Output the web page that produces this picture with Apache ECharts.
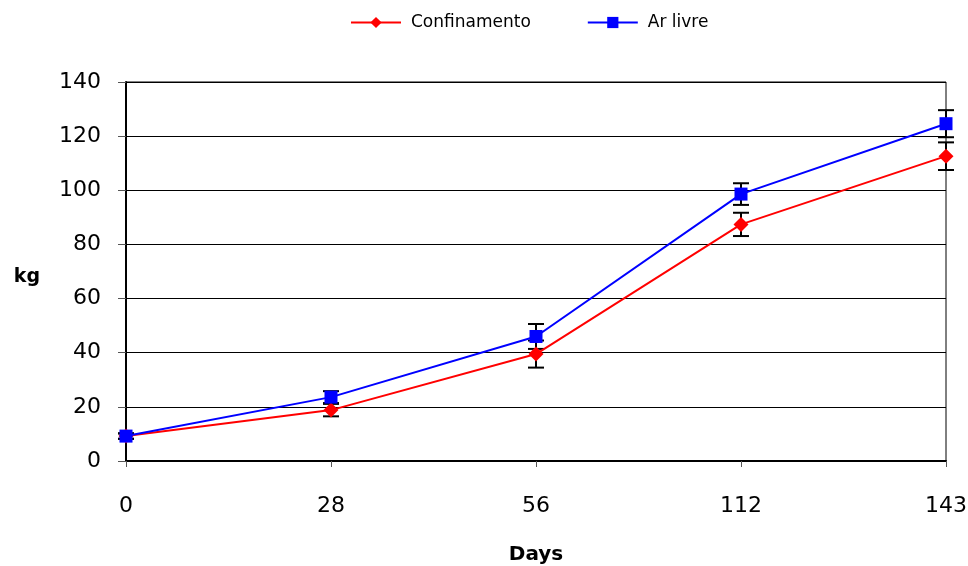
<!DOCTYPE html>
<html>
<head>
<meta charset="utf-8">
<script src="https://cdn.jsdelivr.net/npm/echarts@6/dist/echarts.min.js"></script>
<style>
  html, body { margin: 0; padding: 0; background: #fff; }
  #chart { width: 968px; height: 566px; }
</style>
</head>
<body>
<div id="chart"></div>
<script>
var days = ['0', '28', '56', '112', '143'];
var confinamento = [9.2, 18.8, 39.5, 87.4, 112.6];
var confinamentoErr = [1, 2.3, 5, 4.3, 5.1];
var arLivre = [9.2, 23.6, 46.0, 98.6, 124.6];
var arLivreErr = [1, 2.2, 4.6, 4, 5];

var font = 'DejaVu Sans, Liberation Sans, Arial, sans-serif';

function errorData(vals, errs) {
    return vals.map(function (v, i) {
        return [i, v - errs[i], v + errs[i]];
    });
}

// barra de erro: linha vertical com tampas
function renderError(params, api) {
    var x = api.value(0);
    var lo = api.coord([x, api.value(1)]);
    var hi = api.coord([x, api.value(2)]);
    var w = 8;
    var style = { stroke: '#000', lineWidth: 2 };
    return {
        type: 'group',
        children: [
            { type: 'line', shape: { x1: lo[0], y1: lo[1], x2: hi[0], y2: hi[1] }, style: style },
            { type: 'line', shape: { x1: lo[0] - w, y1: lo[1], x2: lo[0] + w, y2: lo[1] }, style: style },
            { type: 'line', shape: { x1: hi[0] - w, y1: hi[1], x2: hi[0] + w, y2: hi[1] }, style: style }
        ]
    };
}

var option = {
    animation: false,
    backgroundColor: '#fff',
    legend: {
        top: 9,
        left: 345,
        itemWidth: 50,
        itemHeight: 14,
        itemGap: 56,
        textStyle: {
            fontFamily: font,
            fontSize: 17,
            color: '#000',
            padding: [0, 0, 0, 5]
        },
        data: ['Confinamento', 'Ar livre']
    },
    grid: {
        left: 126,
        right: 22,
        top: 82,
        bottom: 105,
        outerBoundsMode: 'none',
        show: true,
        borderColor: '#000',
        borderWidth: 1
    },
    xAxis: {
        type: 'category',
        data: days,
        boundaryGap: false,
        name: 'Days',
        nameLocation: 'middle',
        nameGap: 84,
        nameTextStyle: {
            fontFamily: font,
            fontSize: 20,
            fontWeight: 'bold',
            color: '#000'
        },
        axisLine: { lineStyle: { color: '#000', width: 2 } },
        axisTick: { show: true, length: 6, lineStyle: { color: '#555' } },
        axisLabel: {
            margin: 34,
            fontFamily: font,
            fontSize: 22,
            color: '#000'
        },
        splitLine: { show: false }
    },
    yAxis: {
        type: 'value',
        min: 0,
        max: 140,
        interval: 20,
        name: 'kg',
        nameLocation: 'middle',
        nameRotate: 0,
        nameGap: 86,
        nameTextStyle: {
            fontFamily: font,
            fontSize: 19,
            fontWeight: 'bold',
            color: '#000',
            verticalAlign: 'top',
            lineHeight: 12
        },
        axisLine: { show: true, lineStyle: { color: '#000', width: 2 } },
        axisTick: { show: true, length: 8, lineStyle: { color: '#555' } },
        axisLabel: {
            margin: 25,
            fontFamily: font,
            fontSize: 22,
            color: '#000'
        },
        splitLine: { show: true, lineStyle: { color: '#000', width: 1 } }
    },
    series: [
        {
            type: 'custom',
            name: 'errConf',
            renderItem: renderError,
            data: errorData(confinamento, confinamentoErr),
            encode: { x: 0, y: [1, 2] },
            z: 1,
            silent: true
        },
        {
            type: 'custom',
            name: 'errAr',
            renderItem: renderError,
            data: errorData(arLivre, arLivreErr),
            encode: { x: 0, y: [1, 2] },
            z: 1,
            silent: true
        },
        {
            name: 'Confinamento',
            type: 'line',
            data: confinamento,
            symbol: 'diamond',
            symbolSize: 15,
            lineStyle: { color: '#ff0000', width: 2 },
            itemStyle: { color: '#ff0000' },
            z: 3
        },
        {
            name: 'Ar livre',
            type: 'line',
            data: arLivre,
            symbol: 'rect',
            symbolSize: 13,
            lineStyle: { color: '#0000ff', width: 2 },
            itemStyle: { color: '#0000ff' },
            z: 4
        }
    ]
};

var chart = echarts.init(document.getElementById('chart'));
chart.setOption(option);
</script>
</body>
</html>
